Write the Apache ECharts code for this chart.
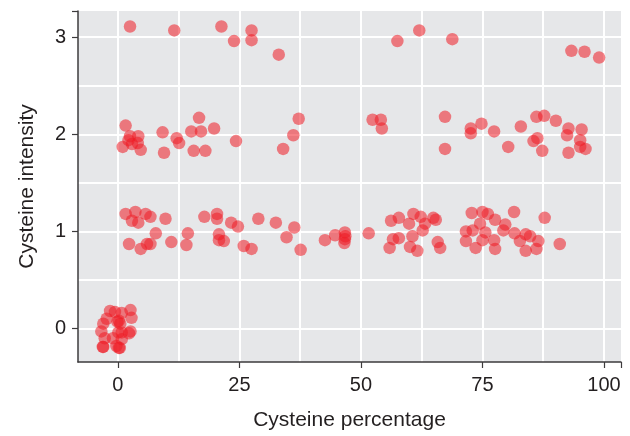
<!DOCTYPE html>
<html>
<head>
<meta charset="utf-8">
<script src="https://cdn.jsdelivr.net/npm/echarts@6/dist/echarts.min.js"></script>
<style>
html,body{margin:0;padding:0;background:#fff;}
#chart{width:630px;height:436px;}
</style>
</head>
<body>
<div id="chart"></div>
<script>
// Cysteine percentage (x) and cysteine intensity (y) for each point
const xValues = [
  // intensity ~3
  2.5, 11.6, 21.3, 23.9, 27.5, 27.5, 33.1, 57.5, 62.0, 68.8, 93.3, 96.0, 99.0,
  // intensity ~2
  1.6, 2.5, 4.2, 2.2, 2.9, 4.1, 1.0, 4.7, 9.2, 9.5, 12.1, 12.6, 15.1, 16.7, 17.1, 15.6, 18.0, 19.8, 24.3,
  34.0, 36.1, 37.2, 52.4, 54.1, 54.3, 67.3, 67.3,
  72.6, 72.6, 74.8, 77.4, 80.3, 82.9, 86.1, 87.7, 85.5, 86.3, 87.3, 90.1, 92.7, 92.4, 92.7, 95.4, 95.1, 95.1, 96.2,
  // intensity ~1
  1.6, 3.6, 2.9, 4.2, 5.7, 6.7, 9.8, 2.3, 4.7, 6.0, 6.7, 7.8, 11.0, 14.1, 14.4, 17.8, 20.4, 20.4, 20.8, 20.8, 21.8,
  23.3, 24.7, 25.9, 27.5, 28.9, 32.5, 34.7, 36.3, 37.6, 42.6, 44.7, 46.7, 46.8, 46.6, 46.7, 51.6,
  56.2, 57.8, 59.9, 60.8, 62.3, 63.2, 62.7, 64.9, 65.4, 56.6, 57.8, 55.9, 60.6, 60.1, 61.6, 65.8, 66.3,
  72.8, 71.6, 73.0, 71.6, 73.6, 74.5, 75.0, 76.1, 75.6, 75.0, 77.6, 77.4, 77.6, 79.7, 79.3, 81.5, 81.6, 82.7,
  83.9, 84.8, 83.9, 86.5, 86.1, 87.8, 90.9,
  // intensity ~0
  -1.6, -0.6, 0.8, 2.6, 2.8, -2.3, -3.0, -0.1, 0.5, -3.4, 0.1, 2.6, 2.3, -2.7, -1.0, 0.8, -3.0, -0.3, 0.4, 0.2,
  -3.1, 0.2, 0.8
];
const yValues = [
  3.11, 3.07, 3.11, 2.96, 3.07, 2.97, 2.82, 2.96, 3.07, 2.98, 2.86, 2.85, 2.79,
  2.09, 1.98, 1.98, 1.94, 1.90, 1.91, 1.87, 1.84, 2.02, 1.81, 1.96, 1.91, 2.03, 2.17, 2.03, 1.83, 1.83, 2.06, 1.93,
  1.85, 1.99, 2.16, 2.15, 2.15, 2.06, 2.18, 1.85,
  2.06, 2.01, 2.11, 2.03, 1.87, 2.08, 2.18, 2.19, 1.93, 1.96, 1.83, 2.14, 2.06, 1.99, 1.81, 2.05, 1.94, 1.87, 1.85,
  1.18, 1.20, 1.11, 1.09, 1.18, 1.15, 1.13, 0.87, 0.82, 0.87, 0.87, 0.98, 0.89, 0.86, 0.98, 1.15, 1.18, 1.13, 0.97, 0.91, 0.90,
  1.09, 1.05, 0.85, 0.82, 1.13, 1.09, 0.94, 1.04, 0.81, 0.91, 0.96, 0.99, 0.95, 0.88, 0.92, 0.98,
  1.11, 1.14, 1.08, 1.18, 1.15, 1.08, 1.01, 1.14, 1.12, 0.92, 0.93, 0.83, 0.95, 0.84, 0.80, 0.89, 0.83,
  1.19, 1.00, 1.01, 0.90, 0.83, 1.08, 1.20, 1.18, 0.99, 0.91, 1.12, 0.91, 0.82, 1.07, 1.01, 1.20, 0.98, 0.90,
  0.97, 0.95, 0.80, 0.90, 0.82, 1.14, 0.87,
  0.18, 0.17, 0.16, 0.19, 0.11, 0.10, 0.05, 0.07, 0.05, -0.03, -0.04, -0.03, -0.05, -0.10, -0.10, -0.11, -0.19, -0.18, -0.20, -0.20,
  -0.19, 0.08, -0.04
];
const xTickLabels = [0, 25, 50, 75, 100];
const yTickLabels = [0, 1, 2, 3];
const xGridValues = [0, 12.5, 25, 37.5, 50, 62.5, 75, 87.5, 100];
const yGridValues = [0, 0.5, 1, 1.5, 2, 2.5, 3];
const xRange = [-8.2, 103.5];
const yRange = [-0.345, 3.27];

const points = xValues.map((x, i) => [x, yValues[i]]);

const font = "'Liberation Sans', Arial, Helvetica, sans-serif";
const txt = '#231f20';
const axisCol = '#3d3b3c';

const chart = echarts.init(document.getElementById('chart'), null, {renderer: 'canvas'});
chart.setOption({
  animation: false,
  backgroundColor: '#ffffff',
  grid: {
    left: 78, right: 9, top: 11, bottom: 73,
    show: true, backgroundColor: '#e6e7e9', borderWidth: 0
  },
  xAxis: [
    {
      type: 'value', min: xRange[0], max: xRange[1],
      splitLine: {show: false},
      axisLine: {show: true, onZero: false, lineStyle: {color: axisCol, width: 1.5}},
      axisTick: {show: true, length: 6, customValues: xTickLabels.concat([xRange[1]]), lineStyle: {color: axisCol, width: 1.2}},
      axisLabel: {customValues: xTickLabels, margin: 13, color: txt, fontSize: 20, fontFamily: font},
      name: 'Cysteine percentage', nameLocation: 'middle', nameGap: 48,
      nameTextStyle: {color: txt, fontSize: 21, fontFamily: font}
    },
    {
      type: 'value', min: xRange[0], max: xRange[1], position: 'bottom',
      axisLine: {show: false, onZero: false}, axisLabel: {show: false},
      axisTick: {show: false, customValues: xGridValues},
      splitLine: {show: true, lineStyle: {color: '#ffffff', width: 2}}
    }
  ],
  yAxis: [
    {
      type: 'value', min: yRange[0], max: yRange[1],
      splitLine: {show: false},
      axisLine: {show: true, onZero: false, lineStyle: {color: axisCol, width: 1.5}},
      axisTick: {show: true, length: 6, customValues: yTickLabels.concat([yRange[1]]), lineStyle: {color: axisCol, width: 1.2}},
      axisLabel: {customValues: yTickLabels, margin: 12, color: txt, fontSize: 20, fontFamily: font},
      name: 'Cysteine intensity', nameLocation: 'middle', nameGap: 40,
      nameTextStyle: {color: txt, fontSize: 21, fontFamily: font}
    },
    {
      type: 'value', min: yRange[0], max: yRange[1], position: 'left',
      axisLine: {show: false, onZero: false}, axisLabel: {show: false},
      axisTick: {show: false, customValues: yGridValues},
      splitLine: {show: true, lineStyle: {color: '#ffffff', width: 2}}
    }
  ],
  series: [{
    type: 'scatter',
    xAxisIndex: 0, yAxisIndex: 0,
    data: points,
    symbol: 'circle',
    symbolSize: 12.5,
    itemStyle: {color: '#ee1c25', opacity: 0.55}
  }]
});
</script>
</body>
</html>
